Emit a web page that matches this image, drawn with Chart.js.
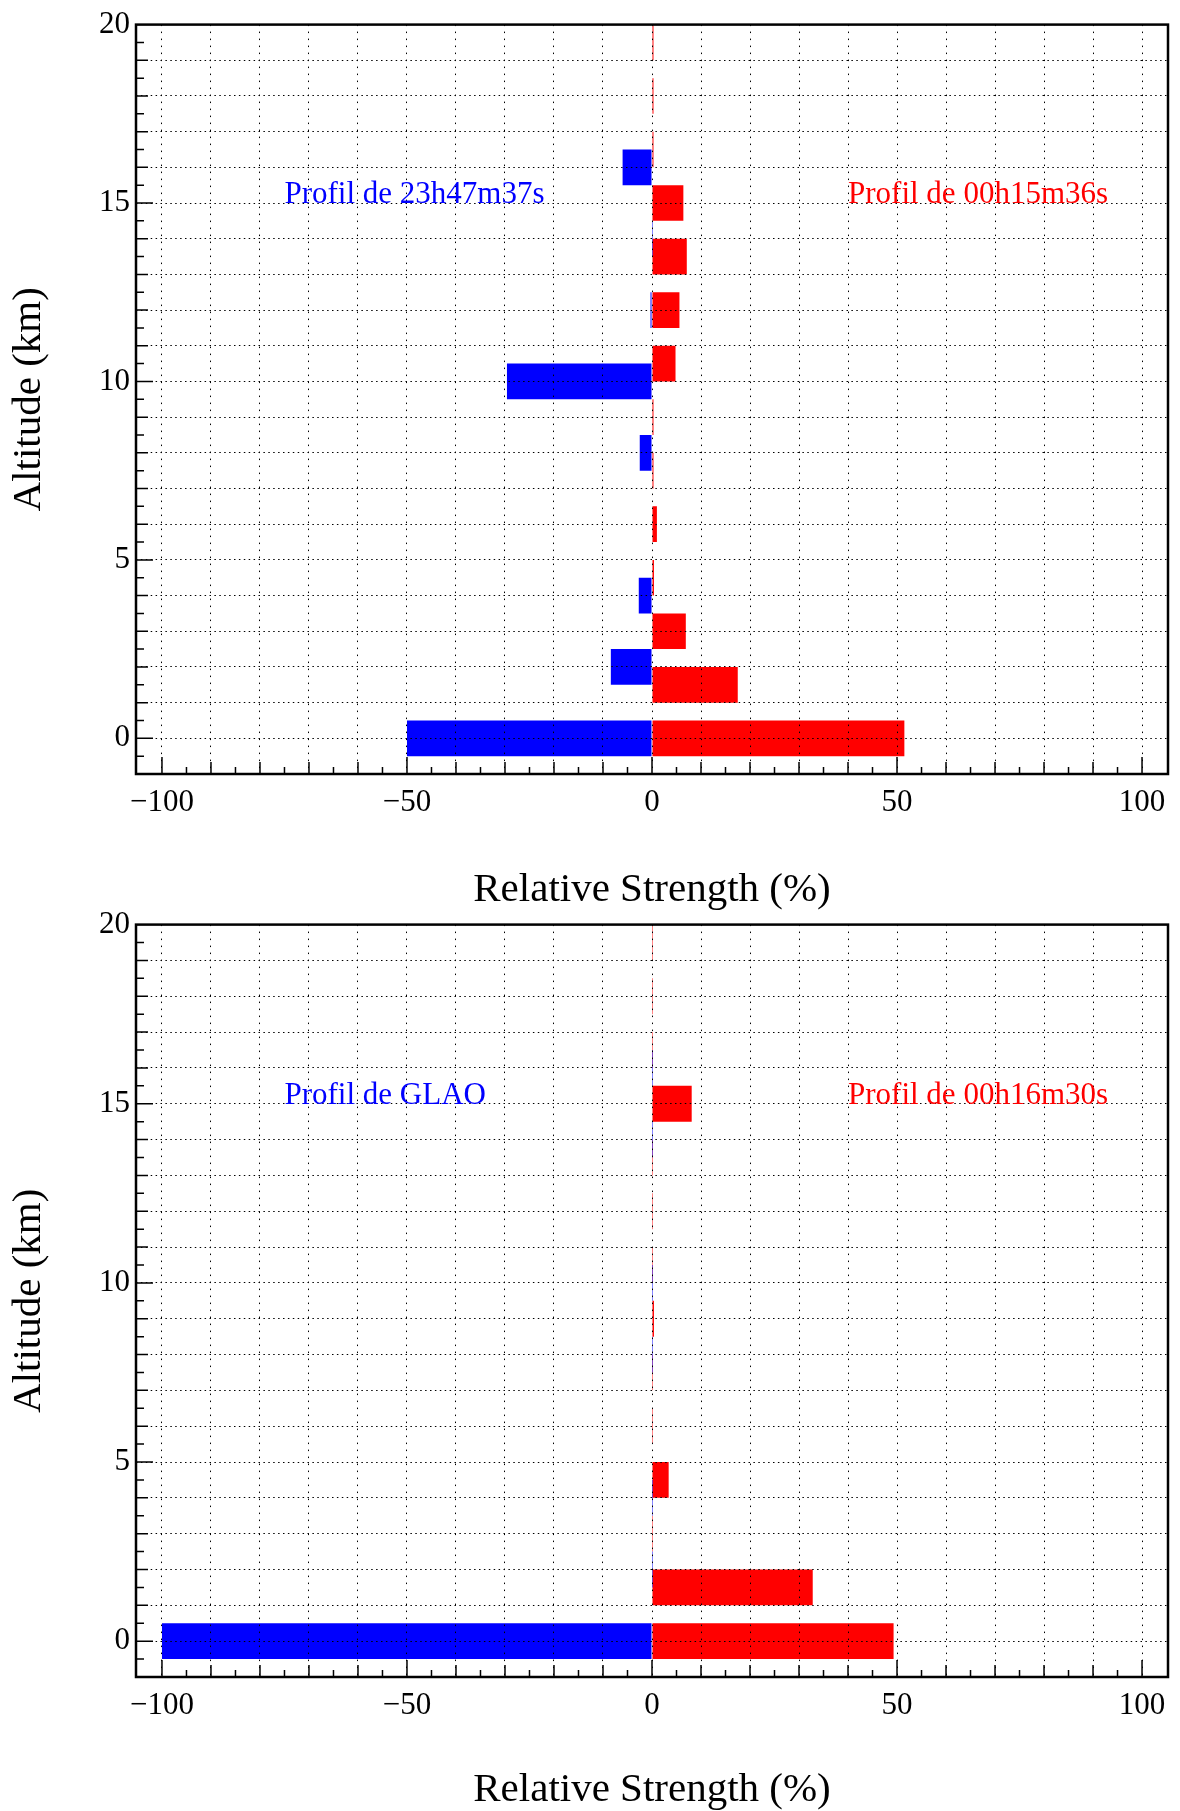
<!DOCTYPE html>
<html>
<head>
<meta charset="utf-8">
<title>Profils de turbulence</title>
<script src="https://cdn.jsdelivr.net/npm/chart.js@4.4.1/dist/chart.umd.min.js"></script>
<style>
  html, body { margin: 0; padding: 0; background: #ffffff; }
  body { width: 1180px; height: 1811px; position: relative; overflow: hidden; }
  .panel { position: absolute; left: 0; width: 1180px; height: 911px; }
  #panelTop { top: 0; }
  #panelBottom { top: 900px; }
</style>
</head>
<body>
<div class="panel" id="panelTop"><canvas id="chartTop"></canvas></div>
<div class="panel" id="panelBottom"><canvas id="chartBottom"></canvas></div>
<script>
// Altitudes des couches (km) pour chaque profil
const altBlue = [0, 2, 4, 6, 8, 10, 12, 14, 16, 18, 20];
const altRed = [0, 1.5, 3, 4.5, 6, 7.5, 9, 10.5, 12, 13.5, 15, 16.5, 18, 19.5];

// Force relative (%) - graphique du haut
const blueTop = [-50, -8.4, -2.7, 0, -2.5, -29.6, -0.3, 0.2, -6.0, 0, 0];
const redTop = [51.5, 17.5, 6.9, 0.4, 1.0, 0.3, 0.3, 4.8, 5.6, 7.1, 6.4, 0.3, 0.3, 0.3];

// Force relative (%) - graphique du bas
const blueBottom = [-100, 0.2, 0.2, 0, 0.2, 0.2, 0, 0.2, 0.2, 0, 0];
const redBottom = [49.3, 32.8, 0.2, 3.4, 0.2, 0.2, 0.4, 0.2, 0.2, 0.2, 8.1, 0.2, 0.2, 0.2];

// Noms des profils
const namesTop = ['Profil de 23h47m37s', 'Profil de 00h15m36s'];
const namesBottom = ['Profil de GLAO', 'Profil de 00h16m30s'];

// Graduations
const xTicks = [-100, -90, -80, -70, -60, -50, -40, -30, -20, -10, 0, 10, 20, 30, 40, 50, 60, 70, 80, 90, 100];
const yTicks = [0, 1, 2, 3, 4, 5, 6, 7, 8, 9, 10, 11, 12, 13, 14, 15, 16, 17, 18, 19, 20];

const LAYER_KM = 1;          // épaisseur d'une couche
const FONT = 'Liberation Serif, Times New Roman, serif';
const BLUE = '#0000ff';
const RED = '#ff0000';

function fmtTick(v) {
    return v < 0 ? '\u2212' + Math.abs(v) : String(v);
}

function toPoints(alts, values) {
    return alts.map((a, i) => ({ y: a, x: values[i] }));
}

// Cadre, graduations intérieures et étiquettes des profils
const framePlugin = {
    id: 'frame',
    afterDraw(chart) {
        const { ctx, chartArea: a, scales: { x, y } } = chart;
        ctx.save();
        ctx.strokeStyle = '#000';
        ctx.lineWidth = 1.5;
        ctx.beginPath();
        for (let v = -100; v <= 100; v += 5) {
            const px = x.getPixelForValue(v);
            const len = v % 50 === 0 ? 17 : (v % 10 === 0 ? 12 : 7);
            ctx.moveTo(px, a.bottom);
            ctx.lineTo(px, a.bottom - len);
        }
        for (let k = -1; k < 40; k++) {
            const v = k / 2;
            const py = y.getPixelForValue(v);
            const len = v % 5 === 0 ? 17 : (Number.isInteger(v) ? 12 : 8);
            ctx.moveTo(a.left, py);
            ctx.lineTo(a.left + len, py);
        }
        ctx.stroke();

        ctx.lineWidth = 2.5;
        ctx.strokeRect(a.left, a.top, a.right - a.left, a.bottom - a.top);

        // étiquettes en coordonnées de données
        const notes = chart.options.plugins.frame.notes;
        ctx.font = '31px ' + FONT;
        ctx.textBaseline = 'alphabetic';
        ctx.textAlign = 'left';
        notes.forEach(n => {
            ctx.fillStyle = n.color;
            ctx.fillText(n.text, x.getPixelForValue(n.x), y.getPixelForValue(n.y));
        });
        ctx.restore();
    }
};

function makeChart(canvasId, blueVals, redVals, names, padTop, xAxisHeight) {
    const chart = new Chart(document.getElementById(canvasId), {
        type: 'bar',
        data: {
            datasets: [{
                label: names[0],
                data: toPoints(altBlue, blueVals),
                backgroundColor: BLUE,
                borderWidth: 0,
                inflateAmount: 0,
                stack: 'profil',
                barThickness: 30
            }, {
                label: names[1],
                data: toPoints(altRed, redVals),
                backgroundColor: RED,
                borderWidth: 0,
                inflateAmount: 0,
                stack: 'profil',
                barThickness: 30
            }]
        },
        plugins: [framePlugin],
        options: {
            indexAxis: 'y',
            responsive: true,
            maintainAspectRatio: false,
            animation: false,
            layout: { padding: { top: padTop, left: 0, right: 12, bottom: 0 } },
            plugins: {
                legend: { display: false },
                tooltip: { enabled: false },
                frame: {
                    notes: [
                        { text: names[0], color: BLUE, x: -75, y: 15 },
                        { text: names[1], color: RED, x: 40, y: 15 }
                    ]
                }
            },
            scales: {
                x: {
                    type: 'linear',
                    min: -105.3,
                    max: 105.3,
                    stacked: false,
                    afterBuildTicks: s => { s.ticks = xTicks.map(v => ({ value: v })); },
                    afterFit: s => { s.height = xAxisHeight; },
                    grid: { color: '#000', lineWidth: 1, drawTicks: false, z: 1 },
                    border: { display: false, dash: [1.5, 5.5] },
                    ticks: {
                        autoSkip: false,
                        maxRotation: 0,
                        padding: 10,
                        color: '#000',
                        font: { family: FONT, size: 31 },
                        callback: v => (v % 50 === 0 ? fmtTick(v) : '')
                    },
                    title: {
                        display: true,
                        text: 'Relative Strength (%)',
                        color: '#000',
                        font: { family: FONT, size: 41, lineHeight: 1 },
                        padding: { top: 0, bottom: 0 }
                    }
                },
                y: {
                    type: 'linear',
                    min: -1,
                    max: 20,
                    offset: false,
                    afterBuildTicks: s => { s.ticks = yTicks.map(v => ({ value: v })); },
                    afterFit: s => { s.width = 136; },
                    grid: { color: '#000', lineWidth: 1, drawTicks: false, offset: false, z: 1 },
                    border: { display: false, dash: [1.5, 3.4] },
                    ticks: {
                        autoSkip: false,
                        padding: 6,
                        color: '#000',
                        font: { family: FONT, size: 31 },
                        callback: v => (v % 5 === 0 ? String(v) : '')
                    },
                    title: {
                        display: true,
                        text: 'Altitude (km)',
                        color: '#000',
                        font: { family: FONT, size: 41 },
                        padding: { top: 5, bottom: 0 }
                    }
                }
            }
        }
    });

    // épaisseur des barres = une couche de LAYER_KM sur l'axe des altitudes
    const ys = chart.scales.y;
    const thick = Math.abs(ys.getPixelForValue(0) - ys.getPixelForValue(LAYER_KM));
    chart.data.datasets.forEach(ds => { ds.barThickness = thick; });
    chart.update('none');
    return chart;
}

document.addEventListener('DOMContentLoaded', function() {
    makeChart('chartTop', blueTop, redTop, namesTop, 20, 137);
    makeChart('chartBottom', blueBottom, redBottom, namesBottom, 21, 134);
});
</script>
</body>
</html>
